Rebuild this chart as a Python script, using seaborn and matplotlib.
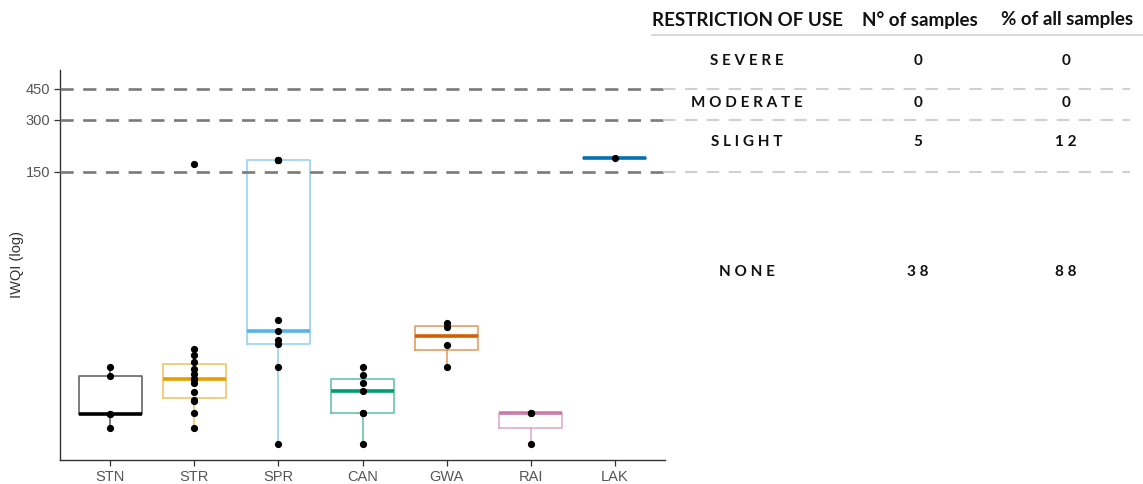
import matplotlib
matplotlib.use("Agg")
import matplotlib.pyplot as plt
from matplotlib.lines import Line2D
from matplotlib.ticker import NullLocator, FixedLocator
from matplotlib.transforms import blended_transform_factory
import numpy as np
import pandas as pd
import seaborn as sns

# --- IWQI values per water source ---
sites = ["STN", "STR", "SPR", "CAN", "GWA", "RAI", "LAK"]
iwqi_stn = [5.1, 6.1, 6.1, 10.1, 11.4]
iwqi_str = [5.1, 6.2, 7.2, 7.3, 8.2, 9.2, 9.7, 9.7, 10.4, 11.1, 12.1, 13.3, 14.4, 167]
iwqi_spr = [4.1, 11.4, 15.4, 16.2, 18.3, 21.2, 176, 176, 176]
iwqi_can = [4.1, 6.2, 6.2, 8.3, 9.2, 10.2, 11.3]
iwqi_gwa = [11.3, 15.3, 19.4, 20.4]
iwqi_rai = [4.1, 6.2, 6.2]
iwqi_lak = [181]
site_colors = ["#000000", "#E69F00", "#56B4E9", "#009E73", "#D55E00", "#CC79A7", "#0072B2"]

# --- restriction classes ---
thresholds = [150, 300, 450]
classes = ["SEVERE", "MODERATE", "SLIGHT", "NONE"]
n_samples = [0, 0, 5, 38]
pct_samples = [0, 0, 12, 88]

values = [iwqi_stn, iwqi_str, iwqi_spr, iwqi_can, iwqi_gwa, iwqi_rai, iwqi_lak]
df = pd.DataFrame({
    "site": np.repeat(sites, [len(v) for v in values]),
    "iwqi": np.concatenate(values),
})

sns.set_style("white")
plt.rcParams["font.family"] = ["Liberation Sans", "DejaVu Sans"]

W, H = 1143, 484
fig = plt.figure(figsize=(W / 100, H / 100), dpi=100)
ax = fig.add_axes([60 / W, 24 / H, 605 / W, 390 / H])

pal = dict(zip(sites, site_colors))
sns.boxplot(data=df, x="site", y="iwqi", hue="site", order=sites, hue_order=sites,
            palette=pal, fill=False, width=0.75, linewidth=1.2, showcaps=False,
            showfliers=False, log_scale=True, legend=False, ax=ax,
            boxprops=dict(alpha=0.6), whiskerprops=dict(alpha=0.6),
            medianprops=dict(linewidth=2.6, alpha=1.0))
sns.stripplot(data=df, x="site", y="iwqi", order=sites, color="black",
              jitter=False, size=5.2, log_scale=True, ax=ax, zorder=5)

for t in thresholds:
    ax.axhline(t, color="#7a7a7a", lw=1.9, dashes=(5, 3.6), zorder=4)

ax.set_xlim(-0.6, 6.6)
ax.set_ylim(3.32, 578)
ax.yaxis.set_major_locator(FixedLocator(thresholds))
ax.yaxis.set_minor_locator(NullLocator())
ax.set_yticklabels([str(t) for t in thresholds])
ax.set_xlabel("")
ax.set_ylabel("IWQI (log)", fontsize=10.5, color="#333333")
ax.yaxis.set_label_coords(-0.06, 0.5)
for side in ["top", "right"]:
    ax.spines[side].set_visible(False)
for side in ["left", "bottom"]:
    ax.spines[side].set_color("#333333")
    ax.spines[side].set_linewidth(1.0)
ax.tick_params(axis="both", which="major", length=4, width=0.9, color="#333333",
               labelcolor="#555555", labelsize=10.5, left=True, bottom=True, pad=3)

# dashed thresholds continue under the table
tr = blended_transform_factory(fig.transFigure, ax.transData)
for t in thresholds:
    fig.add_artist(Line2D([663 / W, 1130 / W], [t, t], transform=tr,
                          color="#d0d0d0", lw=1.5, dashes=(6, 4.5)))

# summary table
def fx(px):
    return px / W

def fy(py):
    return 1 - py / H

tfont = ["Lato", "DejaVu Sans"]
headers = ["RESTRICTION OF USE", "N° of samples", "% of all samples"]
col_x = [747, 920, 1067]
for x, h in zip(col_x, headers):
    fig.text(fx(x), fy(20), h, ha="center", va="center", fontsize=13.5,
             fontweight="bold", family=tfont, color="#111111")
fig.add_artist(Line2D([fx(652), fx(1143)], [fy(35), fy(35)], transform=fig.transFigure,
                      color="#d9d9d9", lw=1.5))

row_y = [61, 103, 142, 272]
def spaced(s):
    return " ".join(str(s))

for y, c, n, p in zip(row_y, classes, n_samples, pct_samples):
    fig.text(fx(col_x[0]), fy(y), spaced(c), ha="center", va="center", fontsize=11,
             fontweight="bold", family=tfont, color="#111111")
    fig.text(fx(918), fy(y), spaced(n), ha="center", va="center", fontsize=11,
             fontweight="bold", family=tfont, color="#111111")
    fig.text(fx(1066), fy(y), spaced(p), ha="center", va="center", fontsize=11,
             fontweight="bold", family=tfont, color="#111111")

fig.savefig("out.png", dpi=100)
